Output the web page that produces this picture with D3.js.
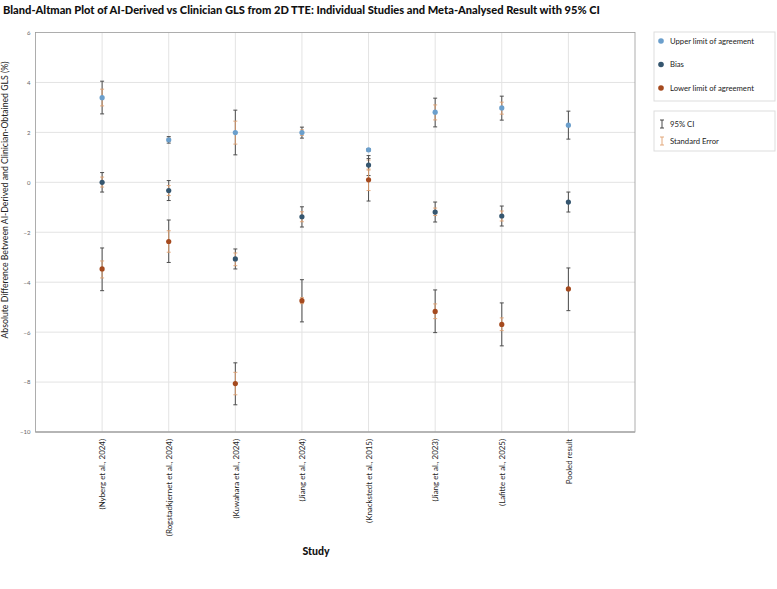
<!DOCTYPE html>
<html>
<head>
<meta charset="utf-8">
<script src="https://cdn.jsdelivr.net/npm/d3@7"></script>
<style>
  body { margin: 0; background: #fff; }
  text { font-family: Lato, "Noto Sans", sans-serif; }
</style>
</head>
<body>
<svg id="chart" width="777" height="589"></svg>
<script>
const studies = ["(Nyberg et al., 2024)", "(Rogstadkjernet et al., 2024)", "(Kuwahara et al., 2024)",
  "(Jiang et al., 2024)", "(Knackstedt et al., 2015)", "(Jiang et al., 2023)", "(Lafitte et al., 2025)", "Pooled result"]

// value, CI low, CI high, SE low, SE high (null = no SE bar)
const upper = [
  [3.39, 2.74, 4.05, 3.06, 3.73],
  [1.70, 1.57, 1.83, 1.64, 1.77],
  [1.99, 1.10, 2.89, 1.53, 2.45],
  [1.99, 1.77, 2.21, 1.88, 2.10],
  [1.30, 1.25, 1.35, null, null],
  [2.81, 2.22, 3.37, 2.50, 3.10],
  [2.98, 2.49, 3.45, 2.73, 3.21],
  [2.29, 1.73, 2.85, null, null]
]
const bias = [
  [0.00, -0.39, 0.39, -0.19, 0.21],
  [-0.33, -0.73, 0.07, -0.53, -0.13],
  [-3.07, -3.47, -2.67, -3.34, -2.83],
  [-1.38, -1.79, -0.98, -1.58, -1.18],
  [0.69, 0.27, 1.07, 0.49, 0.89],
  [-1.19, -1.59, -0.79, -1.33, -1.03],
  [-1.35, -1.75, -0.95, -1.55, -1.15],
  [-0.79, -1.19, -0.39, null, null]
]
const lower = [
  [-3.47, -4.34, -2.63, -3.83, -3.15],
  [-2.37, -3.21, -1.51, -2.80, -1.94],
  [-8.06, -8.91, -7.23, -8.51, -7.61],
  [-4.74, -5.59, -3.90, -4.86, -4.62],
  [0.10, -0.75, 0.95, -0.33, 0.53],
  [-5.17, -6.02, -4.31, -5.46, -4.87],
  [-5.69, -6.55, -4.83, -5.94, -5.43],
  [-4.27, -5.14, -3.43, null, null]
]
const yTicks = [6, 4, 2, 0, -2, -4, -6, -8, -10]

const series = [
  { name: "Upper limit of agreement", color: "#6b9fcc", data: upper },
  { name: "Bias", color: "#35566f", data: bias },
  { name: "Lower limit of agreement", color: "#a54a1e", data: lower }
]
const errItems = [["95% CI", "#333"], ["Standard Error", "#e0a070"]]

const svg = d3.select("#chart")
const margin = { top: 32.5, right: 142, bottom: 157, left: 35.5 }
const width = +svg.attr("width") - margin.left - margin.right
const height = +svg.attr("height") - margin.top - margin.bottom

const g = svg.append("g").attr("transform", "translate(" + margin.left + "," + margin.top + ")")

const x = d3.scalePoint().domain(studies).range([0, width]).padding(1)
const y = d3.scaleLinear().domain([-10, 6]).range([height, 0])

// grid
g.append("g").selectAll("line").data(yTicks.filter(d => d > -10 && d < 6)).join("line")
  .attr("x1", 0).attr("x2", width)
  .attr("y1", d => y(d)).attr("y2", d => y(d))
  .attr("stroke", "#e3e3e3")
g.append("g").selectAll("line").data(studies).join("line")
  .attr("x1", d => x(d)).attr("x2", d => x(d))
  .attr("y1", 0).attr("y2", height)
  .attr("stroke", "#e3e3e3")

// frame
g.append("rect").attr("width", width).attr("height", height)
  .attr("fill", "none").attr("stroke", "#999").attr("stroke-width", 0.8)
g.append("line").attr("x1", 0).attr("x2", width).attr("y1", height).attr("y2", height)
  .attr("stroke", "#aaa").attr("stroke-width", 1.5)

// y axis
const yAxis = g.append("g")
  .call(d3.axisLeft(y).tickValues(yTicks).tickSize(0).tickPadding(5))
yAxis.select(".domain").remove()
yAxis.selectAll("text").attr("font-size", 6).attr("fill", "#666")

// x axis
const xAxis = g.append("g")
  .attr("transform", "translate(0," + height + ")")
  .call(d3.axisBottom(x).tickSize(0).tickPadding(0))
xAxis.select(".domain").remove()
xAxis.selectAll("text")
  .attr("font-size", 7.9).attr("fill", "#222")
  .attr("transform", "rotate(-90)")
  .attr("text-anchor", "end")
  .attr("x", -7).attr("y", 0).attr("dy", "0.35em")

// error bars (pixel ends)
function bar(sel, y1, y2, color, w, cap) {
  sel.append("line").attr("y1", y1).attr("y2", y2)
    .attr("stroke", color).attr("stroke-width", w)
  for (const v of [y1, y2]) {
    sel.append("line").attr("x1", -cap).attr("x2", cap).attr("y1", v).attr("y2", v)
      .attr("stroke", color).attr("stroke-width", w)
  }
}

series.forEach(s => {
  s.data.forEach((d, i) => {
    const gg = g.append("g").attr("transform", "translate(" + x(studies[i]) + ",0)")
    bar(gg, y(d[1]), y(d[2]), "#4d4d4d", 1, 2)
    if (d[3] !== null) bar(gg, y(d[3]), y(d[4]), "#e0a070", 0.9, 2)
  })
})
series.forEach(s => {
  g.append("g").selectAll("circle").data(s.data).join("circle")
    .attr("cx", (d, i) => x(studies[i]))
    .attr("cy", d => y(d[0]))
    .attr("r", 2.6)
    .attr("fill", s.color)
})

// titles
svg.append("text").attr("x", 3).attr("y", 14)
  .attr("font-size", 11.1).attr("font-weight", 900).attr("fill", "#111")
  .text("Bland-Altman Plot of AI-Derived vs Clinician GLS from 2D TTE: Individual Studies and Meta-Analysed Result with 95% CI")

svg.append("text")
  .attr("transform", "translate(8,200) rotate(-90)")
  .attr("text-anchor", "middle").attr("font-size", 8.7).attr("fill", "#222")
  .text("Absolute Difference Between AI-Derived and Clinician-Obtained GLS (%)")

svg.append("text").attr("x", 316).attr("y", 555)
  .attr("text-anchor", "middle").attr("font-size", 10.5).attr("font-weight", 900).attr("fill", "#111")
  .text("Study")

// legend
const lg = svg.append("g").attr("transform", "translate(654,32)")
lg.append("rect").attr("width", 121).attr("height", 69)
  .attr("fill", "#fff").attr("stroke", "#ddd")
series.forEach((s, i) => {
  const row = lg.append("g").attr("transform", "translate(0," + (9 + i * 23.5) + ")")
  row.append("circle").attr("cx", 7).attr("cy", 0).attr("r", 2.8).attr("fill", s.color)
  row.append("text").attr("x", 16).attr("y", 0).attr("dy", "0.35em")
    .attr("font-size", 7.7).attr("fill", "#222").text(s.name)
})

const lg2 = svg.append("g").attr("transform", "translate(654,111)")
lg2.append("rect").attr("width", 121).attr("height", 40)
  .attr("fill", "#fff").attr("stroke", "#ddd")
errItems.forEach((e, i) => {
  const row = lg2.append("g").attr("transform", "translate(8," + (13 + i * 17) + ")")
  bar(row, -4, 4, e[1], 0.9, 2)
  row.append("text").attr("x", 8).attr("y", 0).attr("dy", "0.35em")
    .attr("font-size", 7.7).attr("fill", "#222").text(e[0])
})
</script>
</body>
</html>
